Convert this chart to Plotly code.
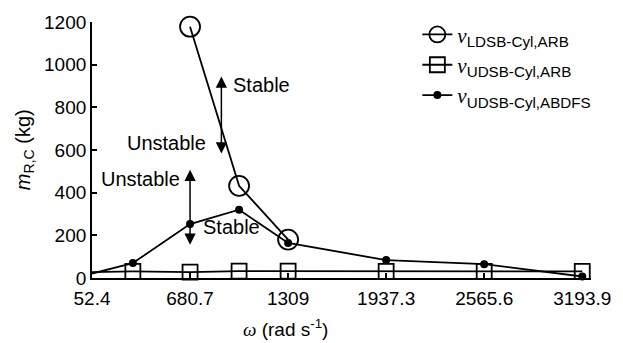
import plotly.graph_objects as go

# ---- data ----
omega_ldsb = [680.7, 994.9, 1309.0]
m_ldsb_arb = [1178, 432, 180]

omega_udsb = [52.4, 314.2, 680.7, 994.9, 1309.0, 1937.3, 2565.6, 3193.9]
m_udsb_arb = [28, 31, 28, 32, 32, 31, 31, 31]
m_udsb_abdfs = [21, 70, 253, 320, 164, 84, 65, 7]

x_tickvals = [52.4, 680.7, 1309.0, 1937.3, 2565.6, 3193.9]
x_ticktext = ["52.4", "680.7", "1309", "1937.3", "2565.6", "3193.9"]
y_tickvals = [0, 200, 400, 600, 800, 1000, 1200]

FONT = "Liberation Sans, Arial, sans-serif"
SERIF = "Liberation Serif"
nu = f"<span style='font-family:{SERIF}'><i>ν</i></span>"
LW = 1.8


def leg(sub):
    return f"{nu}<sub><span style='font-size:15.2px'>{sub}</span></sub>"


fig = go.Figure()

fig.add_trace(go.Scatter(
    x=omega_ldsb, y=m_ldsb_arb, mode="lines+markers",
    name=leg("LDSB-Cyl,ARB"),
    line=dict(color="black", width=LW),
    marker=dict(symbol="circle-open", size=20, color="black",
                line=dict(color="black", width=LW)),
    cliponaxis=False))

# leading segments from the axis (first sample has no marker)
for yy in (m_udsb_arb, m_udsb_abdfs):
    fig.add_trace(go.Scatter(
        x=omega_udsb[:2], y=yy[:2], mode="lines", showlegend=False,
        line=dict(color="black", width=LW), hoverinfo="skip", cliponaxis=False))

fig.add_trace(go.Scatter(
    x=omega_udsb[1:], y=m_udsb_arb[1:], mode="lines+markers",
    name=leg("UDSB-Cyl,ARB"),
    line=dict(color="black", width=LW),
    marker=dict(symbol="square-open", size=15, color="black",
                line=dict(color="black", width=LW)),
    cliponaxis=False))

fig.add_trace(go.Scatter(
    x=omega_udsb[1:], y=m_udsb_abdfs[1:], mode="lines+markers",
    name=leg("UDSB-Cyl,ABDFS"),
    line=dict(color="black", width=LW),
    marker=dict(symbol="circle", size=8, color="black",
                line=dict(color="black", width=0)),
    cliponaxis=False))

annotations = []
# double-headed arrows
for (xa, y0, y1) in [(881.5, 944, 577), (680.7, 508, 149)]:
    annotations.append(dict(x=xa, y=y0, ax=xa, ay=y1, xref="x", yref="y",
                            axref="x", ayref="y", text="", showarrow=True,
                            arrowhead=2, startarrowhead=2, arrowside="end+start",
                            arrowsize=1.5, startarrowsize=1.5, arrowwidth=1.5,
                            arrowcolor="black"))
labels = [("Stable", 942.6, 906, "left"), ("Unstable", 797.8, 631, "right"),
          ("Unstable", 627.8, 466, "right"), ("Stable", 753.7, 241, "left")]
for t, xx, yy, anc in labels:
    annotations.append(dict(x=xx, y=yy, xref="x", yref="y", text=t, showarrow=False,
                            xanchor=anc, yanchor="middle",
                            font=dict(family=FONT, size=20, color="black")))
# axis titles
annotations.append(dict(x=0.387, y=-0.195, xref="paper", yref="paper",
                        text=f"<span style='font-family:{SERIF}'><i>ω</i></span> (rad s<sup>-1</sup>)",
                        showarrow=False, xanchor="center", yanchor="middle",
                        font=dict(family=FONT, size=19, color="black")))
annotations.append(dict(x=-0.136, y=0.5, xref="paper", yref="paper",
                        text="<i>m</i><sub>R,C</sub> (kg)", textangle=-90,
                        showarrow=False, xanchor="center", yanchor="middle",
                        font=dict(family=FONT, size=20, color="black")))

fig.update_layout(
    width=623, height=343,
    margin=dict(l=92, r=24, t=16, b=65),
    paper_bgcolor="white", plot_bgcolor="white",
    font=dict(family=FONT, size=19, color="black"),
    showlegend=True,
    legend=dict(x=0.652, y=1.03, xanchor="left", yanchor="top",
                bgcolor="rgba(0,0,0,0)", font=dict(family=FONT, size=21, color="black"),
                itemwidth=30, tracegroupgap=0),
    annotations=annotations,
    xaxis=dict(range=[52.4, 3250], tickvals=x_tickvals, ticktext=x_ticktext,
               showline=True, linecolor="black", linewidth=LW, ticks="inside",
               ticklen=5, tickwidth=1.5, tickcolor="black", showgrid=False,
               zeroline=False, tickfont=dict(size=19), ticklabelstandoff=2),
    yaxis=dict(range=[0, 1200], tickvals=y_tickvals,
               showline=True, linecolor="black", linewidth=LW, ticks="inside",
               ticklen=5, tickwidth=1.5, tickcolor="black", showgrid=False,
               zeroline=False, tickfont=dict(size=19)),
)

fig.write_html("out.html")
